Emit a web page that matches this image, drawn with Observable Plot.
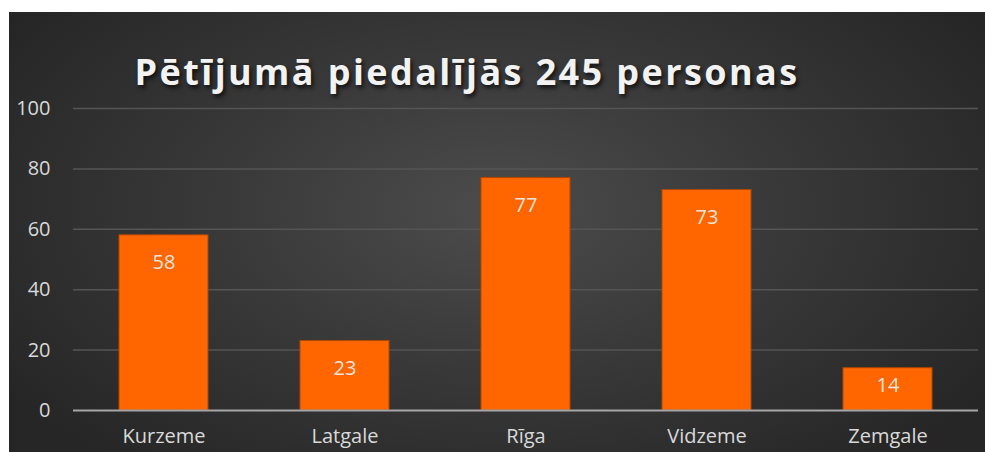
<!DOCTYPE html>
<html>
<head>
<meta charset="utf-8">
<script src="https://cdn.jsdelivr.net/npm/d3@7"></script>
<script src="https://cdn.jsdelivr.net/npm/@observablehq/plot@0.6"></script>
<style>
  html, body { margin: 0; padding: 0; background: #fff; }
  #wrap { position: relative; width: 985px; height: 452px; overflow: hidden; background: #fff; }
  #panel { position: absolute; left: 9px; top: 12px; width: 976px; height: 440px;
    background: radial-gradient(ellipse 60% 75% at 50% 45%, #4c4c4c 0%, #383838 50%, #262626 100%); }
  #title { position: absolute; left: 0; top: 42px; width: 916px; text-align: center;
    font-family: "Open Sans", sans-serif; font-weight: 700; font-size: 36px; letter-spacing: 2.4px;
    color: #f2f2f2; text-shadow: 2px 3px 4px rgba(0,0,0,0.7); margin: 0; line-height: 1; }
  #chart { position: absolute; left: 0; top: 0; }
</style>
</head>
<body>
<div id="wrap"><div id="panel"><div id="chart"></div><h2 id="title">Pētījumā piedalījās 245 personas</h2></div></div>
<script>
const regions = ["Kurzeme", "Latgale", "Rīga", "Vidzeme", "Zemgale"];
const counts = [58, 23, 77, 73, 14];
const yTicks = [0, 20, 40, 60, 80, 100];

const data = regions.map((r, i) => ({region: r, count: counts[i]}));

const chart = Plot.plot({
  width: 976,
  height: 440,
  marginLeft: 64,
  marginRight: 7,
  marginTop: 96,
  marginBottom: 42,
  style: {background: "transparent", fontFamily: "Open Sans, sans-serif", fontSize: "20px", color: "#d9d9d9", overflow: "visible"},
  x: {domain: regions, paddingInner: 0.51, paddingOuter: 0.245, label: null, tickSize: 0, tickPadding: 18},
  y: {domain: [0, 100], ticks: yTicks, label: null, tickSize: 0, tickPadding: 23},
  marks: [
    Plot.gridY(yTicks.filter(d => d > 0), {stroke: "#555", strokeOpacity: 1, strokeWidth: 1.5}),
    Plot.barY(data, {x: "region", y: "count", fill: "#ff6600", stroke: "#b34700", strokeWidth: 1}),
    Plot.ruleY([0], {stroke: "#a6a6a6", strokeWidth: 2}),
    // inside-end labels: ~9 units below the bar top, kept inside short bars
    Plot.text(data, {x: "region", y: d => Math.max(d.count - 9, d.count * 0.6), text: d => String(d.count), fill: "#f2f2f2", fillOpacity: 0.92, fontSize: 20})
  ]
});
document.getElementById("chart").appendChild(chart);
</script>
</body>
</html>
